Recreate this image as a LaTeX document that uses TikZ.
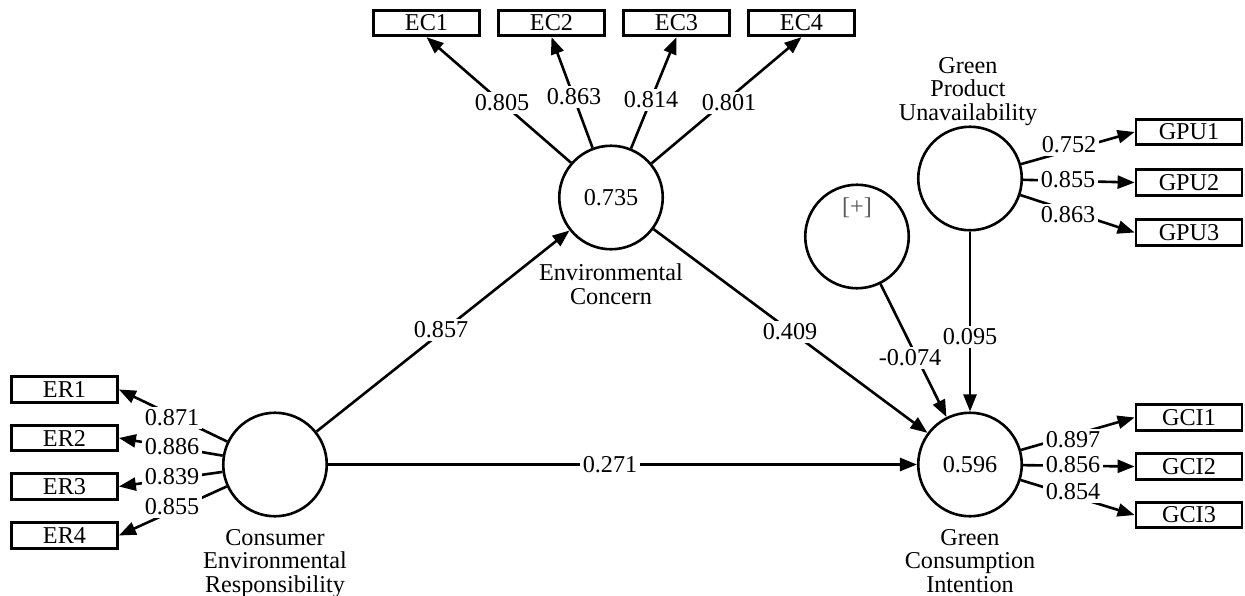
\documentclass[tikz,border=0pt]{standalone}
\usepackage{fontspec}
\setmainfont{Liberation Serif}
\usetikzlibrary{arrows.meta}
\definecolor{plusgray}{gray}{0.35}
\begin{document}
\begin{tikzpicture}[x=1pt,y=-1pt,
  font=\fontsize{24.2pt}{23.5pt}\selectfont,
  lv/.style={circle,draw,line width=2.6pt,minimum size=103.5pt,inner sep=0pt},
  ind/.style={draw,line width=2.8pt,minimum width=106pt,minimum height=25.5pt,inner sep=0pt},
  conn/.style={line width=2.6pt,-{Triangle[length=17pt,width=13pt]}},
  load/.style={fill=white,inner sep=2.5pt},
  ttl/.style={align=center,inner sep=0pt,anchor=north}]
\useasboundingbox (0,0) rectangle (1245,595);

% latent variables
\node[lv] (cer) at (275,464.5) {};
\node[lv] (ec)  at (611,197.5) {0.735};
\node[lv] (gci) at (970,464.5) {0.596};
\node[lv] (gpu) at (970,178.5) {};
\node[lv] (mod) at (857,236.5) {};
\node[text=plusgray] (plus) at (857,208) {[+]};

% indicators
\node[ind] (ec1) at (426.5,23) {EC1};
\node[ind] (ec2) at (551.5,23) {EC2};
\node[ind] (ec3) at (676.5,23) {EC3};
\node[ind] (ec4) at (801.5,23) {EC4};
\node[ind] (er1) at (64.5,389.5) {ER1};
\node[ind] (er2) at (64.5,438) {ER2};
\node[ind] (er3) at (64.5,486.5) {ER3};
\node[ind] (er4) at (64.5,535.5) {ER4};
\node[ind] (gpu1) at (1189,132) {GPU1};
\node[ind] (gpu2) at (1189,182.5) {GPU2};
\node[ind] (gpu3) at (1189,232.5) {GPU3};
\node[ind] (gci1) at (1189,417.5) {GCI1};
\node[ind] (gci2) at (1189,466.5) {GCI2};
\node[ind] (gci3) at (1189,515) {GCI3};

% outer loadings
\draw[conn] (ec) -- (ec1.south);
\draw[conn] (ec) -- (ec2.south);
\draw[conn] (ec) -- (ec3.south);
\draw[conn] (ec) -- (ec4.south);
\draw[conn] (cer) -- (er1.east);
\draw[conn] (cer) -- (er2.east);
\draw[conn] (cer) -- (er3.east);
\draw[conn] (cer) -- (er4.east);
\draw[conn] (gpu) -- (gpu1.west);
\draw[conn] (gpu) -- (gpu2.west);
\draw[conn] (gpu) -- (gpu3.west);
\draw[conn] (gci) -- (gci1.west);
\draw[conn] (gci) -- (gci2.west);
\draw[conn] (gci) -- (gci3.west);

% structural paths
\draw[conn] (cer) -- (ec);
\draw[conn] (cer) -- (gci);
\draw[conn] (ec) -- (gci);
\draw[conn] (mod) -- (gci);
\draw[conn] (gpu) -- (gci);

% loading labels
\node[load] (lec1) at (502,103) {0.805};
\node[load] (lec2) at (574,97) {0.863};
\node[load] (lec3) at (651,100) {0.814};
\node[load] (lec4) at (729,103) {0.801};
\node[load] (ler1) at (172,418) {0.871};
\node[load] (ler2) at (172,447) {0.886};
\node[load] (ler3) at (172,477) {0.839};
\node[load] (ler4) at (172,507) {0.855};
\node[load] (lgpu1) at (1069,145) {0.752};
\node[load] (lgpu2) at (1068,180) {0.855};
\node[load] (lgpu3) at (1068,215) {0.863};
\node[load] (lgci1) at (1073,440) {0.897};
\node[load] (lgci2) at (1073,465) {0.856};
\node[load] (lgci3) at (1073,492) {0.854};

% path labels
\node[load] (p1) at (441,330) {0.857};
\node[load] (p2) at (610,464.5) {0.271};
\node[load] (p3) at (790,332) {0.409};
\node[load] (p4) at (910,358) {-0.074};
\node[load] (p5) at (970,337) {0.095};

% titles
\node[ttl] (tec) at (611,264) {Environmental\\Concern};
\node[ttl] (tcer) at (275,529) {Consumer\\Environmental\\Responsibility};
\node[ttl] (tgci) at (970,529) {Green\\Consumption\\Intention};
\node[ttl] (tgpu) at (968,57) {Green\\Product\\Unavailability};
\end{tikzpicture}
\end{document}
